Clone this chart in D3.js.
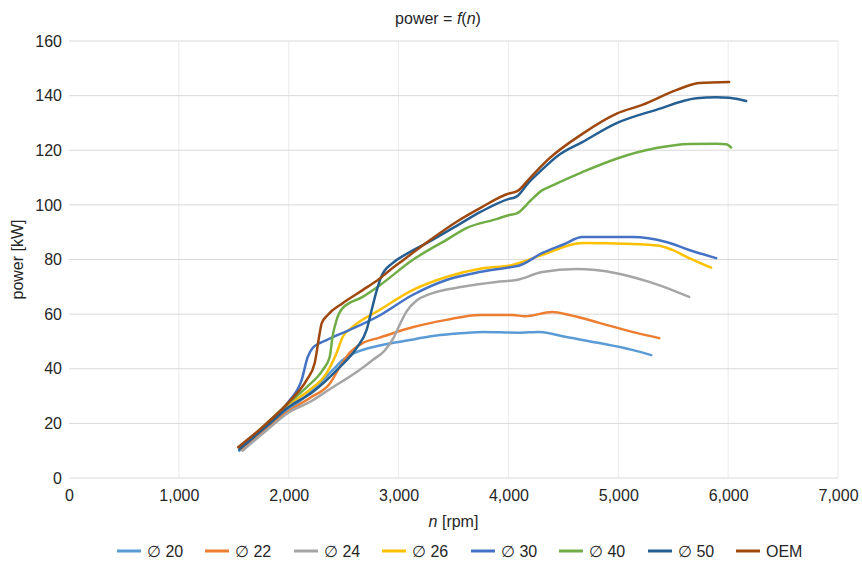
<!DOCTYPE html>
<html>
<head>
<meta charset="utf-8">
<script src="https://cdn.jsdelivr.net/npm/d3@7"></script>
<style>
  body { margin: 0; background: #fff; }
  svg text { font-family: "Liberation Sans", Arial, sans-serif; fill: #262626; }
</style>
</head>
<body>
<svg id="chart" width="862" height="563"></svg>
<script>
// tick values
var xTicks = [0, 1000, 2000, 3000, 4000, 5000, 6000, 7000];
var yTicks = [0, 20, 40, 60, 80, 100, 120, 140, 160];

// series labels and colors
var seriesNames = ['\u2205 20', '\u2205 22', '\u2205 24', '\u2205 26', '\u2205 30', '\u2205 40', '\u2205 50', 'OEM'];
var seriesColors = ['#5b9bd5', '#ed7d31', '#a5a5a5', '#ffc000', '#4472c4', '#70ad47', '#255e91', '#9e480e'];

// [rpm, kW]
var d20 = [[1550,10],[1800,18.5],[2000,25],[2200,31.5],[2400,39.5],[2491,43.2],[2618,46.1],[2827,48.5],[3100,50.5],[3282,51.8],[3500,52.8],[3764,53.5],[4082,53.2],[4282,53.5],[4527,51.6],[4827,49.4],[5127,46.9],[5300,45]];
var d22 = [[1570,10.5],[1800,18],[2000,24.5],[2200,29.5],[2373,34.5],[2464,40.6],[2555,45.8],[2673,49.4],[2827,51.4],[3127,55.2],[3436,57.9],[3736,59.7],[4036,59.7],[4150,59.2],[4400,60.8],[4555,59.7],[4827,56.8],[5127,53.5],[5373,51.2]];
var d24 = [[1580,10],[1800,17.5],[2000,24],[2200,28],[2373,32.5],[2618,38.8],[2764,43.2],[2870,46.5],[2950,51],[3009,56],[3073,61],[3164,65],[3282,67.3],[3582,70],[3891,71.8],[4073,72.5],[4309,75.4],[4618,76.5],[4982,75],[5282,71.8],[5645,66.3]];
var d26 = [[1560,11],[1800,20],[2000,27],[2191,32.2],[2345,38.4],[2436,45.8],[2491,51.6],[2582,55.3],[2827,61.5],[3127,68.8],[3436,73.6],[3764,76.8],[4036,78],[4309,81.7],[4673,86],[5127,85.7],[5373,85],[5491,83.5],[5645,80.5],[5845,77]];
var d30 = [[1560,11],[1800,20],[2000,28],[2118,35.9],[2173,44.3],[2218,47.6],[2345,50.5],[2555,54.2],[2827,59.5],[3127,67],[3436,72.5],[3736,75.4],[4036,77.3],[4100,77.8],[4309,82.4],[4500,85.5],[4673,88.2],[5127,88.2],[5436,86.4],[5645,83.5],[5891,80.5]];
var d40 = [[1560,11],[1800,20],[2000,27.5],[2164,33.3],[2309,39.5],[2373,44.3],[2400,52],[2436,57.9],[2491,62.2],[2673,66.3],[2827,70.5],[3127,79.8],[3436,87.2],[3618,91.5],[3891,94.8],[4009,96.3],[4082,97],[4200,101.5],[4309,105.4],[4372,106.6],[4673,112],[4990,117],[5345,120.8],[5645,122.3],[5900,122.4],[5982,122.2],[6027,121]];
var d50 = [[1550,10.5],[1800,19],[2000,26],[2218,31.5],[2464,40.6],[2618,47.6],[2709,54.2],[2755,61.5],[2800,68.5],[2840,73.5],[2945,78.7],[3050,81.5],[3300,87],[3536,92.5],[3750,97.5],[3990,102],[4073,103],[4180,108],[4282,112],[4450,118],[4673,123],[4990,130],[5345,134.8],[5709,139],[5891,139.4],[6010,139.2],[6164,138]];
var dOEM = [[1540,11.3],[1800,20],[2018,28.5],[2164,35.9],[2236,42],[2282,53],[2300,56.6],[2355,59.7],[2491,64],[2673,68.8],[2827,73],[2918,76],[3050,80],[3300,87.5],[3536,94],[3750,99],[3990,104],[4080,105],[4200,110],[4372,117],[4673,126],[4990,133.5],[5218,136.6],[5527,142],[5736,144.6],[6009,145]];

var seriesData = [d20, d22, d24, d26, d30, d40, d50, dOEM];

var svg = d3.select('#chart'),
	margin = { left: 69, right: 24, top: 41, bottom: 85 },
	width = 862 - margin.left - margin.right,
	height = 563 - margin.top - margin.bottom;

var x = d3.scaleLinear().domain([0, 7000]).range([margin.left, margin.left + width]);
var y = d3.scaleLinear().domain([0, 160]).range([margin.top + height, margin.top]);

// vertical grid (lighter)
svg.append('g')
	.selectAll('line')
	.data(xTicks.slice(1))
	.enter()
	.append('line')
	.attr('x1', function(d) { return x(d); })
	.attr('x2', function(d) { return x(d); })
	.attr('y1', y(160))
	.attr('y2', y(0))
	.attr('stroke', '#ebebeb')
	.attr('stroke-width', 1);

// horizontal grid
svg.append('g')
	.selectAll('line')
	.data(yTicks)
	.enter()
	.append('line')
	.attr('x1', x(0))
	.attr('x2', x(7000))
	.attr('y1', function(d) { return y(d); })
	.attr('y2', function(d) { return y(d); })
	.attr('stroke', '#d9d9d9')
	.attr('stroke-width', 1);

// axes, text only
var xAxis = svg.append('g')
	.attr('transform', 'translate(0,' + y(0) + ')')
	.call(d3.axisBottom(x).tickValues(xTicks).tickSize(0).tickPadding(12).tickFormat(d3.format(',')));
xAxis.select('.domain').remove();
xAxis.selectAll('text').attr('font-size', 16).style('font-family', '"Liberation Sans", Arial, sans-serif').attr('fill', '#262626');

var yAxis = svg.append('g')
	.attr('transform', 'translate(' + x(0) + ',0)')
	.call(d3.axisLeft(y).tickValues(yTicks).tickSize(0).tickPadding(7));
yAxis.select('.domain').remove();
yAxis.selectAll('text').attr('font-size', 16).style('font-family', '"Liberation Sans", Arial, sans-serif').attr('fill', '#262626');

// lines
var line = d3.line()
	.x(function(d) { return x(d[0]); })
	.y(function(d) { return y(d[1]); })
	.curve(d3.curveMonotoneX);

svg.append('g')
	.selectAll('path')
	.data(seriesData)
	.enter()
	.append('path')
	.attr('d', line)
	.attr('fill', 'none')
	.attr('stroke', function(d, i) { return seriesColors[i]; })
	.attr('stroke-width', 2.5)
	.attr('stroke-linejoin', 'round')
	.attr('stroke-linecap', 'round');

// title
var title = svg.append('text')
	.attr('x', 438)
	.attr('y', 24)
	.attr('text-anchor', 'middle')
	.attr('font-size', 16);
title.append('tspan').text('power = ');
title.append('tspan').attr('font-style', 'italic').text('f');
title.append('tspan').text('(');
title.append('tspan').attr('font-style', 'italic').text('n');
title.append('tspan').text(')');

// axis titles
var xTitle = svg.append('text')
	.attr('x', x(3500))
	.attr('y', 527)
	.attr('text-anchor', 'middle')
	.attr('font-size', 16);
xTitle.append('tspan').attr('font-style', 'italic').text('n');
xTitle.append('tspan').text(' [rpm]');

svg.append('text')
	.attr('transform', 'translate(23,' + y(80) + ') rotate(-90)')
	.attr('text-anchor', 'middle')
	.attr('font-size', 16)
	.text('power [kW]');

// legend
var legendX = [117, 205, 294, 382, 471, 559, 648, 736];
var legend = svg.append('g')
	.selectAll('g')
	.data(seriesNames)
	.enter()
	.append('g')
	.attr('transform', function(d, i) { return 'translate(' + legendX[i] + ',551)'; });

legend.append('line')
	.attr('x1', 0).attr('x2', 24)
	.attr('y1', 0).attr('y2', 0)
	.attr('stroke', function(d, i) { return seriesColors[i]; })
	.attr('stroke-width', 3);

legend.append('text')
	.attr('x', 30)
	.attr('y', 6)
	.attr('font-size', 16)
	.text(function(d) { return d; });
</script>
</body>
</html>
